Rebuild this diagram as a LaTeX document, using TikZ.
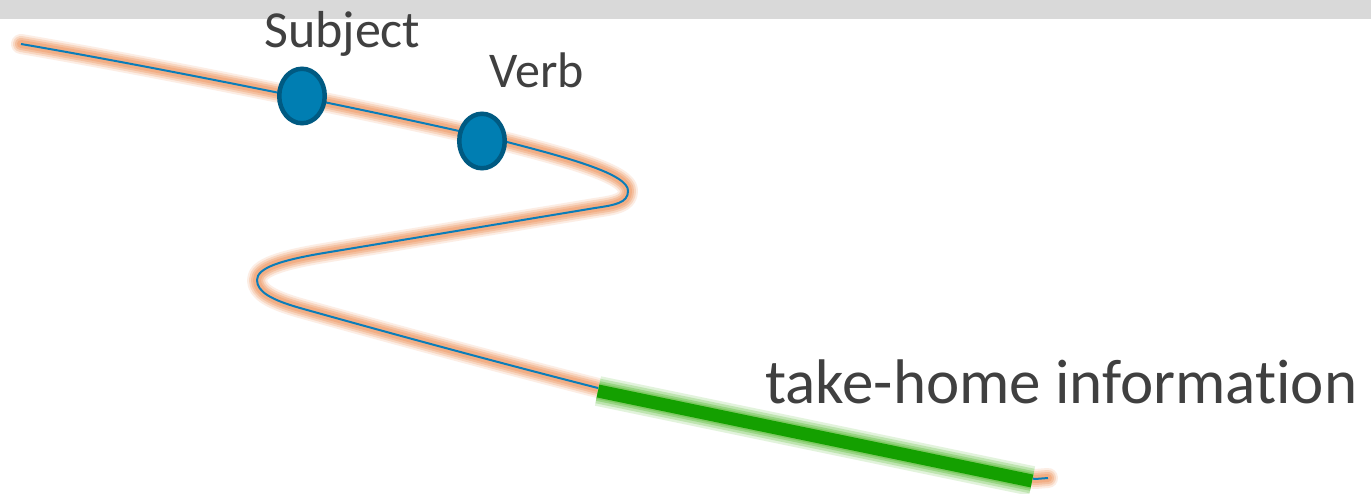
\documentclass[tikz,border=0pt]{standalone}
\usepackage{fontspec}
\setmainfont{Carlito}[Ligatures=NoCommon]
\usetikzlibrary{shapes.geometric}
\definecolor{barcol}{RGB}{217,217,217}
\definecolor{txtcol}{RGB}{64,64,64}
\definecolor{bluecol}{RGB}{10,125,185}
\definecolor{ellfill}{RGB}{0,126,178}
\definecolor{elldraw}{RGB}{0,90,130}
\definecolor{greencol}{RGB}{20,160,0}
\definecolor{greenglow}{RGB}{110,195,80}
\definecolor{orangeglow}{RGB}{240,165,120}
\tikzset{
  oglow/.style={line cap=round, line join=round},
  gglow/.style={line cap=butt},
  wordbox/.style={ellipse, fill=ellfill, draw=elldraw, line width=4.5pt,
    minimum width=45.5pt, minimum height=54.5pt, inner sep=0pt},
  labeltext/.style={anchor=base west, inner sep=0pt, text=txtcol},
}
\def\mycurve{(p0) .. controls (150,66) and (380,112) .. (p1)
  .. controls (565,157) and (629,174) .. (tipa)
  .. controls (628,203) and (615,205) .. (p2)
  -- (p3) .. controls (280,260) and (257,268) .. (tipb)
  .. controls (257,292) and (272,300) .. (p4)
  .. controls (400,336) and (500,363) .. (gs)
  -- (ge) -- (pend)}
\begin{document}
\begin{tikzpicture}[x=1pt,y=-1pt]
\useasboundingbox (0,0) rectangle (1371,493);
\fill[white] (0,0) rectangle (1371,493);
\fill[barcol] (0,0) rectangle (1371,19);
% curve points
\coordinate (p0) at (21,44);
\coordinate (p1) at (507,142);
\coordinate (tipa) at (628,191);
\coordinate (p2) at (595,208);
\coordinate (p3) at (330,252);
\coordinate (tipb) at (257,280);
\coordinate (p4) at (300,308);
\coordinate (gs) at (598,388);
\coordinate (ge) at (1035,479);
\coordinate (pend) at (1048,478);
\coordinate (gstart) at (598,391);
\coordinate (gend) at (1032,481);
% orange glow
\draw[oglow, draw=orangeglow!20!white, line width=20pt] \mycurve;
\draw[oglow, draw=orangeglow!45!white, line width=16pt] \mycurve;
\draw[oglow, draw=orangeglow!70!white, line width=12pt] \mycurve;
\draw[oglow, draw=orangeglow!90!white, line width=8pt] \mycurve;
% blue thin line
\draw[bluecol, line width=2pt, line join=round] \mycurve;
% green segment with glow
\draw[gglow, draw=greenglow!20!white, line width=30pt] (gstart) -- (gend);
\draw[gglow, draw=greenglow!45!white, line width=25pt] (gstart) -- (gend);
\draw[gglow, draw=greenglow!70!white, line width=20pt] (gstart) -- (gend);
\draw[gglow, draw=greenglow!90!white, line width=16pt] (gstart) -- (gend);
\draw[greencol, line width=13pt] (gstart) -- (gend);
% ellipses
\node[wordbox] (subj) at (302,96) {};
\node[wordbox] (verb) at (482,141) {};
% labels
\node[labeltext, font=\fontsize{52}{60}\selectfont] (subjlab) at (264,47) {Subject};
\node[labeltext, font=\fontsize{50}{58}\selectfont] (verblab) at (489,87) {Verb};
\node[labeltext, font=\fontsize{63}{72}\selectfont] (takelab) at (765,403) {take-home information};
\end{tikzpicture}
\end{document}
